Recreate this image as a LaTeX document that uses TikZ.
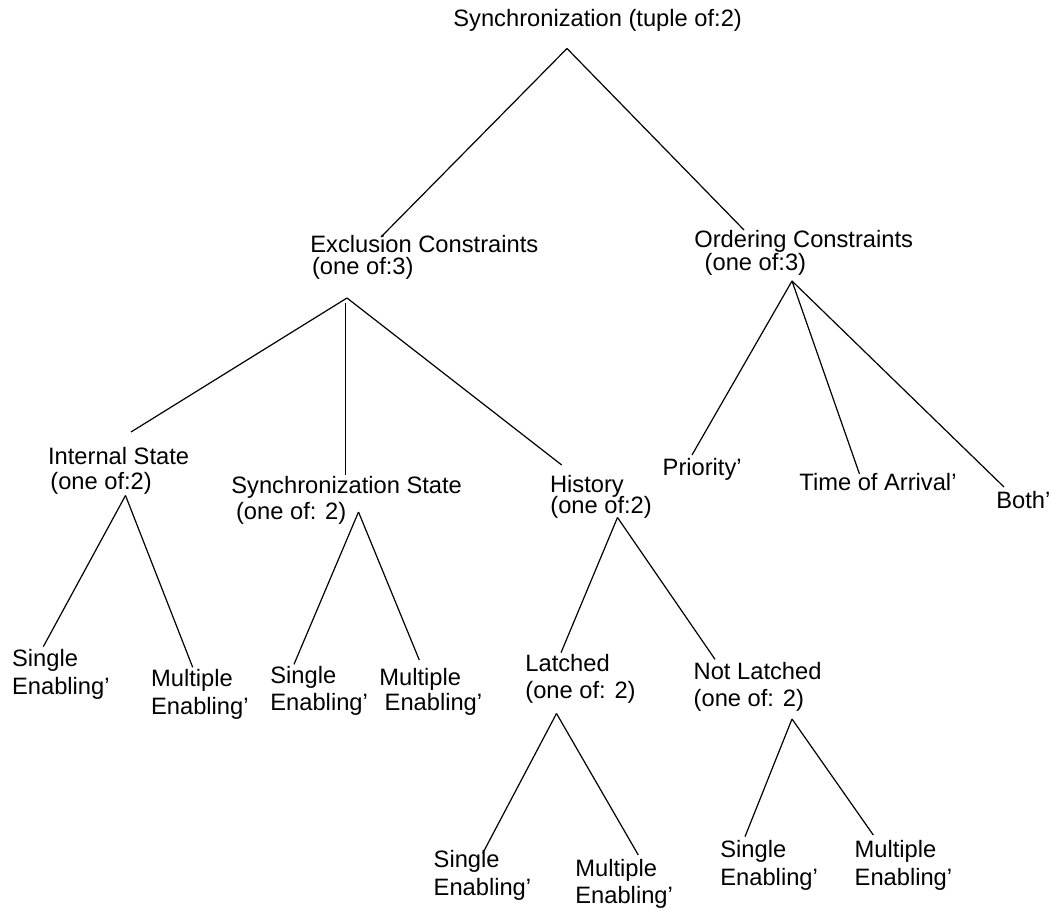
\documentclass[tikz,border=0pt]{standalone}
\usepackage{fontspec}
\setmainfont{Liberation Sans}
\usepackage{tikz}

\begin{document}
\begin{tikzpicture}[x=0.5pt,y=-0.5pt,
  lbl/.style={anchor=base west,inner sep=0pt,font=\fontsize{11.85}{14}\selectfont},
  branch/.style={line width=0.6pt}]
\useasboundingbox (0,0) rectangle (1051,909);
% top levels
\node[lbl] (sync) at (453,27) {Synchronization (tuple of:2)};
\node[lbl] (exc) at (310,252.7) {Exclusion Constraints};
\node[lbl] (exc2) at (311.7,274.3) {(one of:3)};
\node[lbl] (ord) at (694,248) {Ordering Constraints};
\node[lbl] (ord2) at (704.3,271) {(one of:3)};
% exclusion children
\node[lbl] (int) at (47.7,464.3) {Internal State};
\node[lbl] (int2) at (50,489.5) {(one of:2)};
\node[lbl] (sst) at (231,494) {Synchronization State};
\node[lbl] (sst2) at (235.7,520) {(one of: 2)};
\node[lbl] (hist) at (549.7,492.3) {History};
\node[lbl] (hist2) at (550,514) {(one of:2)};
% ordering children
\node[lbl] (prio) at (662.3,475.8) {Priority'};
\node[lbl] (toa) at (799,490.3) {Time of Arrival'};
\node[lbl] (both) at (996,509) {Both'};
% leaves under internal state
\node[lbl] (intS) at (11.7,666.5) {Single};
\node[lbl] (intS2) at (11.7,694.3) {Enabling'};
\node[lbl] (intM) at (150.7,686) {Multiple};
\node[lbl] (intM2) at (150.7,714.3) {Enabling'};
% leaves under synchronization state
\node[lbl] (sstS) at (270,683.3) {Single};
\node[lbl] (sstS2) at (270,710.7) {Enabling'};
\node[lbl] (sstM) at (379,685) {Multiple};
\node[lbl] (sstM2) at (384.3,710.7) {Enabling'};
% history
\node[lbl] (lat) at (525,671) {Latched};
\node[lbl] (lat2) at (525,698) {(one of: 2)};
\node[lbl] (nlat) at (693.3,679.3) {Not Latched};
\node[lbl] (nlat2) at (693.3,706) {(one of: 2)};
\node[lbl] (latS) at (433.3,867.7) {Single};
\node[lbl] (latS2) at (433.3,895) {Enabling'};
\node[lbl] (latM) at (575,876) {Multiple};
\node[lbl] (latM2) at (575,903.3) {Enabling'};
\node[lbl] (nlatS) at (720,857.7) {Single};
\node[lbl] (nlatS2) at (720,885) {Enabling'};
\node[lbl] (nlatM) at (854.3,857.7) {Multiple};
\node[lbl] (nlatM2) at (854.3,885) {Enabling'};
% fork points
\coordinate (sync-f) at (567,48.5);
\coordinate (exc-f) at (347,298);
\coordinate (exc-v) at (345.7,302.7);
\coordinate (ord-f) at (792,281);
\coordinate (int-f) at (125.5,495.5);
\coordinate (sst-f) at (358.5,512);
\coordinate (hist-f) at (617.5,517.5);
\coordinate (lat-f) at (556.5,713.5);
\coordinate (nlat-f) at (792,719);
% line ends
\coordinate (exc-in) at (381,237);
\coordinate (ord-in) at (744,230);
\coordinate (int-in) at (131,432);
\coordinate (sst-in) at (345.7,475);
\coordinate (hist-in) at (561.7,465);
\coordinate (prio-in) at (692,455);
\coordinate (toa-in) at (859.5,474);
\coordinate (both-in) at (1004,487);
\coordinate (intS-in) at (43.3,646.7);
\coordinate (intM-in) at (192.7,667.3);
\coordinate (sstS-in) at (294,664.3);
\coordinate (sstM-in) at (419.3,660);
\coordinate (lat-in) at (561,652.7);
\coordinate (nlat-in) at (715,659.3);
\coordinate (latS-in) at (482.7,853.3);
\coordinate (latM-in) at (638.3,855);
\coordinate (nlatS-in) at (745,836.7);
\coordinate (nlatM-in) at (873.3,835);
% branches
\draw[branch] (sync-f) -- (exc-in);
\draw[branch] (sync-f) -- (ord-in);
\draw[branch] (exc-f) -- (int-in);
\draw[branch] (exc-v) -- (sst-in);
\draw[branch] (exc-f) -- (hist-in);
\draw[branch] (ord-f) -- (prio-in);
\draw[branch] (ord-f) -- (toa-in);
\draw[branch] (ord-f) -- (both-in);
\draw[branch] (int-f) -- (intS-in);
\draw[branch] (int-f) -- (intM-in);
\draw[branch] (sst-f) -- (sstS-in);
\draw[branch] (sst-f) -- (sstM-in);
\draw[branch] (hist-f) -- (lat-in);
\draw[branch] (hist-f) -- (nlat-in);
\draw[branch] (lat-f) -- (latS-in);
\draw[branch] (lat-f) -- (latM-in);
\draw[branch] (nlat-f) -- (nlatS-in);
\draw[branch] (nlat-f) -- (nlatM-in);
\end{tikzpicture}
\end{document}
